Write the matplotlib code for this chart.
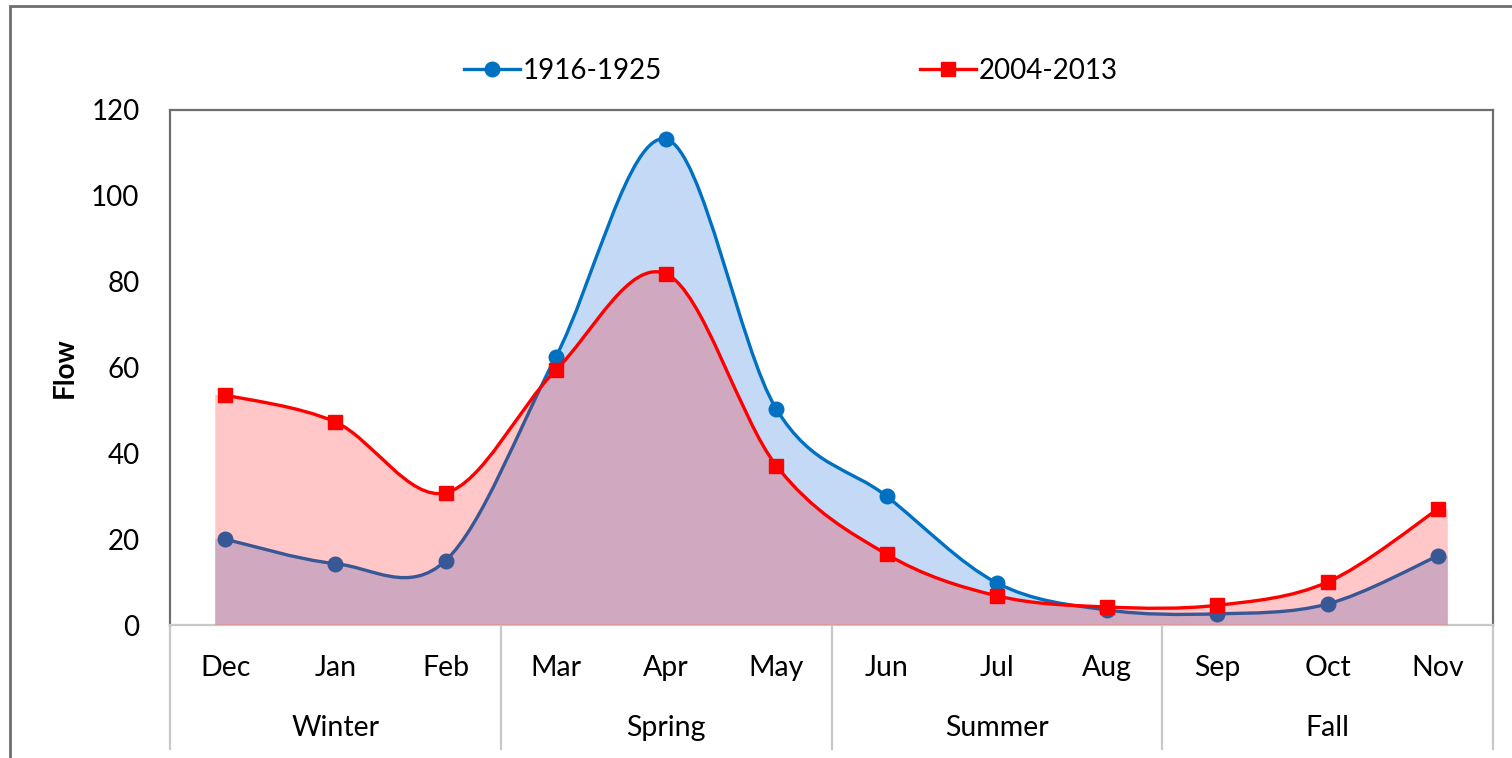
import numpy as np
import matplotlib
matplotlib.use('Agg')
from matplotlib import pyplot as plt
from matplotlib.path import Path
from matplotlib.patches import PathPatch, Rectangle
from matplotlib.lines import Line2D
import matplotlib.transforms as mtransforms

plt.rcParams['font.family'] = ['Lato', 'DejaVu Sans']

# datos
meses = ['Dec', 'Jan', 'Feb', 'Mar', 'Apr', 'May', 'Jun', 'Jul', 'Aug', 'Sep', 'Oct', 'Nov']
estaciones = ['Winter', 'Spring', 'Summer', 'Fall']
flow_1916 = [20.0, 14.3, 15.0, 62.5, 113.2, 50.3, 30.0, 9.8, 3.5, 2.6, 4.9, 16.1]
flow_2004 = [53.6, 47.3, 30.8, 59.4, 81.8, 37.1, 16.5, 6.8, 4.2, 4.6, 10.0, 27.0]
etiqueta_1916 = '1916-1925'
etiqueta_2004 = '2004-2013'

azul = '#0070C0'
relleno_azul = '#C3D9F6'
rojo = '#FF0000'
gris = '#6E6E6E'
gris_claro = '#C8C8C8'


def camino_suave(x, y):
    # curva suavizada tipo Excel (Catmull-Rom como Bezier cubica)
    pts = np.column_stack([x, y]).astype(float)
    n = len(pts)
    verts = [pts[0]]
    codes = [Path.MOVETO]
    for i in range(n - 1):
        p0 = pts[max(i - 1, 0)]
        p1 = pts[i]
        p2 = pts[i + 1]
        p3 = pts[min(i + 2, n - 1)]
        c1 = p1 + (p2 - p0) / 6.0
        c2 = p2 - (p3 - p1) / 6.0
        verts += [c1, c2, p2]
        codes += [Path.CURVE4] * 3
    return verts, codes


def area_suave(x, y, extra=0.09):
    # el area de Excel sobresale un poco de los marcadores en los extremos
    verts, codes = camino_suave(x, y)
    verts = verts + [(x[-1] + extra, y[-1]), (x[-1] + extra, 0), (x[0] - extra, 0),
                     (x[0] - extra, y[0]), (x[0], y[0])]
    codes = codes + [Path.LINETO] * 4 + [Path.CLOSEPOLY]
    return Path(verts, codes)


fig = plt.figure(figsize=(15.12, 7.58), dpi=100)
ax = fig.add_axes([170 / 1512, 133 / 758, 1323 / 1512, 515 / 758])

x = np.arange(len(meses))

# serie 1916-1925
ax.add_patch(PathPatch(area_suave(x, flow_1916), facecolor=relleno_azul, edgecolor='none', zorder=1))
v, c = camino_suave(x, flow_1916)
ax.add_patch(PathPatch(Path(v, c), facecolor='none', edgecolor=azul, lw=2.4, zorder=2))
ax.plot(x, flow_1916, 'o', color=azul, markersize=10.5, zorder=2)

# serie 2004-2013
ax.add_patch(PathPatch(area_suave(x, flow_2004), facecolor=rojo, alpha=0.22, edgecolor='none', zorder=3))
v, c = camino_suave(x, flow_2004)
ax.add_patch(PathPatch(Path(v, c), facecolor='none', edgecolor=rojo, lw=2.4, zorder=4))
ax.plot(x, flow_2004, 's', color=rojo, markersize=10, zorder=4)

ax.set_xlim(-0.5, len(meses) - 0.5)
ax.set_ylim(0, 120)
ax.set_yticks(np.arange(0, 121, 20))
ax.tick_params(axis='y', length=0, pad=22, labelsize=20)
ax.set_xticks([])

for lado in ['left', 'top', 'right']:
    ax.spines[lado].set_color(gris)
    ax.spines[lado].set_linewidth(1.6)
ax.spines['bottom'].set_color(gris_claro)
ax.spines['bottom'].set_linewidth(1.6)

# eje de categorias con dos niveles
trans = mtransforms.blended_transform_factory(ax.transData, ax.transAxes)
for i, m in enumerate(meses):
    ax.text(i, -0.083, m, transform=trans, ha='center', va='center', fontsize=20.5)
for j, e in enumerate(estaciones):
    ax.text(3 * j + 1, -0.2, e, transform=trans, ha='center', va='center', fontsize=20.5)
for k in range(len(estaciones) + 1):
    ax.add_line(Line2D([3 * k - 0.5, 3 * k - 0.5], [0, -0.24], transform=trans,
                       color=gris_claro, lw=1.6, clip_on=False))

fig.text(65 / 1512, 1 - 368 / 758, 'Flow', rotation=90, ha='center', va='center',
         fontsize=20, fontweight='bold')

# leyenda
h1 = Line2D([], [], color=azul, lw=2.4, marker='o', markersize=10.5)
h2 = Line2D([], [], color=rojo, lw=2.4, marker='s', markersize=10)
fig.legend([h1, h2], [etiqueta_1916, etiqueta_2004], loc='center',
           bbox_to_anchor=(791 / 1512, 1 - 71 / 758), ncol=2, frameon=False,
           fontsize=20, handlelength=2.0, handletextpad=0.1, columnspacing=9.3)

# marco exterior del grafico
fig.add_artist(Rectangle((10 / 1512, -0.1), 1.1, 1.092, transform=fig.transFigure,
                         fill=False, edgecolor=gris, lw=2))

fig.savefig('out.png', dpi=100)
